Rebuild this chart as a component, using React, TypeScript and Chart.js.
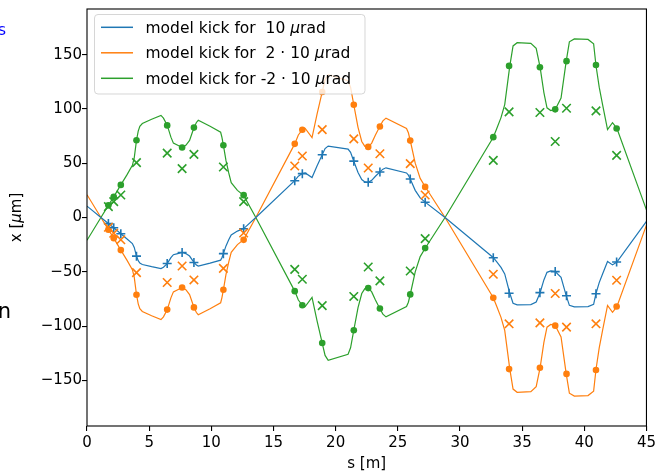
import React, { useEffect, useRef } from 'react';
import { Chart, registerables } from 'chart.js';

Chart.register(...registerables);

// ---- model orbit (dense points along s) ----
const modelS = [0, 1.12, 1.72, 2.15, 2.72, 3.2, 3.65, 3.8, 3.98, 4.12, 4.25, 4.45, 5.2, 5.95, 6.15, 6.45, 6.75, 6.95, 7.3, 7.66, 7.95, 8.25, 8.6, 8.8, 8.95, 9.9, 10.75, 10.85, 10.97, 11.18, 11.4, 11.6, 12.1, 12.6, 13.58, 16.71, 17.0, 17.32, 17.55, 18.1, 18.5, 18.92, 19.15, 19.4, 21.0, 21.2, 21.46, 21.8, 22.1, 22.35, 22.62, 22.9, 23.2, 23.56, 23.8, 24.05, 25.7, 25.85, 26.0, 26.4, 26.8, 27.2, 28.8, 32.67, 32.93, 33.3, 33.6, 34.0, 34.27, 34.6, 35.7, 36.13, 36.45, 36.75, 37.0, 37.3, 37.66, 38.13, 38.54, 38.8, 39.2, 40.3, 40.75, 40.94, 41.2, 41.47, 41.87, 42.27, 42.62, 45];

const blueModel = [10.5, 0, -5.6, -9.5, -15, -19.5, -24, -27.5, -35.5, -39.75, -42, -43.25, -45.25, -47, -45.75, -42.5, -37, -34.25, -33.25, -32.25, -33.25, -35.5, -41.35, -43.75, -44.75, -42, -39.25, -37, -33.3, -26.15, -20.5, -16, -12.5, -10.2, 0, 33.9, 38, 40.45, 41, 36.75, 47.5, 57.8, 63.5, 65.75, 63, 60, 51.85, 41.5, 35, 32.75, 32.4, 34.25, 38, 42, 44.5, 45.75, 41, 39, 35.45, 25, 18, 14.15, 0, -36.8, -40.5, -46, -52, -69.5, -79, -80.5, -80.15, -77.85, -69, -57.5, -50.5, -49.25, -49.75, -55, -71.75, -80.9, -82.25, -82, -80, -70, -60, -52, -40.5, -43.65, -41.05, -3.5];

const orangeModel = [21, 0, -11.2, -19, -30, -39, -48, -55, -71, -79.5, -84, -86.5, -90.5, -94, -91.5, -85, -74, -68.5, -66.5, -64.5, -66.5, -71, -82.7, -87.5, -89.5, -84, -78.5, -74, -66.6, -52.3, -41, -32, -25, -20.4, 0, 67.8, 76, 80.9, 82, 73.5, 95, 115.6, 127, 131.5, 126, 120, 103.7, 83, 70, 65.5, 64.8, 68.5, 76, 84, 89, 91.5, 82, 78, 70.9, 50, 36, 28.3, 0, -73.6, -81, -92, -104, -139, -158, -161, -160.3, -155.7, -138, -115, -101, -98.5, -99.5, -110, -143.5, -161.8, -164.5, -164, -160, -140, -120, -104, -81, -87.3, -82.1, -7];

const greenModel = [-21, 0, 11.2, 19, 30, 39, 48, 55, 71, 79.5, 84, 86.5, 90.5, 94, 91.5, 85, 74, 68.5, 66.5, 64.5, 66.5, 71, 82.7, 87.5, 89.5, 84, 78.5, 74, 66.6, 52.3, 41, 32, 25, 20.4, 0, -67.8, -76, -80.9, -82, -73.5, -95, -115.6, -127, -131.5, -126, -120, -103.7, -83, -70, -65.5, -64.8, -68.5, -76, -84, -89, -91.5, -82, -78, -70.9, -50, -36, -28.3, 0, 73.6, 81, 92, 104, 139, 158, 161, 160.3, 155.7, 138, 115, 101, 98.5, 99.5, 110, 143.5, 161.8, 164.5, 164, 160, 140, 120, 104, 81, 87.3, 82.1, 7];

// ---- values at BPM positions ----
const bpmS = [1.72, 2.15, 2.72, 3.98, 6.45, 7.65, 8.6, 10.97, 12.6, 16.71, 17.32, 18.92, 21.46, 22.62, 23.56, 26.0, 27.2, 32.68, 33.95, 36.43, 37.66, 38.57, 40.94, 42.6];
const blueBpm = [-5.6, -9.5, -15, -35.6, -42.4, -32.2, -41.4, -33.3, -10.3, 33.9, 40.4, 57.8, 51.9, 32.5, 41.9, 35.4, 14.1, -37, -69.8, -69.2, -49.8, -72, -70.2, -41];
const orangeBpm = [-11.2, -19, -30, -71.2, -84.8, -64.4, -82.8, -66.6, -20.6, 67.8, 80.8, 115.6, 103.8, 65, 83.8, 70.8, 28.2, -74, -139.6, -138.4, -99.6, -144, -140.4, -82];
const greenBpm = [11.2, 19, 30, 71.2, 84.8, 64.4, 82.8, 66.6, 20.6, -67.8, -80.8, -115.6, -103.8, -65, -83.8, -70.8, -28.2, 74, 139.6, 138.4, 99.6, 144, 140.4, 82];
const orangeMeas = [-9, -14.5, -20.5, -50.8, -59.9, -44.7, -57.5, -46.8, -14.3, 47.4, 56.6, 80.9, 72.4, 45.6, 58.7, 49.6, 20.7, -52.3, -97.9, -97, -70, -101, -97.9, -57.8];
const greenMeas = [10, 14.6, 20.7, 50.5, 59.3, 45, 58.1, 46.5, 14.6, -47.8, -56.9, -81.2, -72.7, -45.6, -58.4, -49.3, -19.5, 52.6, 97.3, 96.7, 70, 100.6, 98.2, 57.2];

// ---- ticks & labels ----
const xTicks = [0, 5, 10, 15, 20, 25, 30, 35, 40, 45];
const yTicks = [-150, -100, -50, 0, 50, 100, 150];
const legendPrefixes = ['model kick for  10 ', 'model kick for  2 \u00b7 10 ', 'model kick for -2 \u00b7 10 '];
const legendUnitGreek = '\u03bc';
const legendUnitRest = 'rad';
const xTitle = 's [m]';
const yTitleParts = ['x [', '\u03bc', 'm]'];

const BLUE = '#1f77b4';
const ORANGE = '#ff7f0e';
const GREEN = '#2ca02c';
const FONT = '"DejaVu Sans", sans-serif';

const pts = (xs: number[], ys: number[]) => xs.map((x, i) => ({ x, y: ys[i] }));

// draws text pieces where the middle piece is italic (mathtext-like \mu)
const drawMixed = (ctx: any, parts: string[], x: number, y: number, fs: number) => {
  let tx = x;
  parts.forEach((p, i) => {
    ctx.font = `${i === 1 ? 'italic ' : ''}${fs}px ${FONT}`;
    ctx.fillText(p, tx, y);
    tx += ctx.measureText(p).width;
  });
};
const mixedWidth = (ctx: any, parts: string[], fs: number) => {
  let w = 0;
  parts.forEach((p, i) => {
    ctx.font = `${i === 1 ? 'italic ' : ''}${fs}px ${FONT}`;
    w += ctx.measureText(p).width;
  });
  return w;
};

const framePlugin = {
  id: 'mplFrame',
  afterDraw(chart: any) {
    const { ctx, chartArea: a } = chart;
    ctx.save();
    ctx.strokeStyle = '#000';
    ctx.lineWidth = 1.1;
    ctx.strokeRect(a.left, a.top, a.right - a.left, a.bottom - a.top);

    // y axis title, rotated
    ctx.save();
    const fsT = 15;
    const w = mixedWidth(ctx, yTitleParts, fsT);
    ctx.translate(17.5, (a.top + a.bottom) / 2);
    ctx.rotate(-Math.PI / 2);
    ctx.fillStyle = '#000';
    ctx.textBaseline = 'middle';
    ctx.textAlign = 'left';
    drawMixed(ctx, yTitleParts, -w / 2, 0, fsT);
    ctx.restore();

    // legend
    const x0 = 94.5, y0 = 14.5, x1 = 365, y1 = 94, r = 3.5;
    ctx.beginPath();
    ctx.moveTo(x0 + r, y0);
    ctx.lineTo(x1 - r, y0);
    ctx.quadraticCurveTo(x1, y0, x1, y0 + r);
    ctx.lineTo(x1, y1 - r);
    ctx.quadraticCurveTo(x1, y1, x1 - r, y1);
    ctx.lineTo(x0 + r, y1);
    ctx.quadraticCurveTo(x0, y1, x0, y1 - r);
    ctx.lineTo(x0, y0 + r);
    ctx.quadraticCurveTo(x0, y0, x0 + r, y0);
    ctx.closePath();
    ctx.fillStyle = 'rgba(255,255,255,0.8)';
    ctx.fill();
    ctx.strokeStyle = 'rgba(204,204,204,0.8)';
    ctx.lineWidth = 1;
    ctx.stroke();

    const colors = [BLUE, ORANGE, GREEN];
    const fs = 15.5;
    legendPrefixes.forEach((pre, i) => {
      const ry = 27.3 + i * 25.5;
      ctx.strokeStyle = colors[i];
      ctx.lineWidth = 1.5;
      ctx.beginPath();
      ctx.moveTo(101, ry);
      ctx.lineTo(133, ry);
      ctx.stroke();
      ctx.fillStyle = '#000';
      ctx.textBaseline = 'alphabetic';
      ctx.textAlign = 'left';
      drawMixed(ctx, [pre, legendUnitGreek, legendUnitRest], 145.5, ry + 5.5, fs);
    });

    // clipped text fragments at the left edge of the figure
    ctx.textAlign = 'left';
    ctx.textBaseline = 'alphabetic';
    ctx.font = `16px ${FONT}`;
    ctx.fillStyle = '#0000ff';
    ctx.fillText('s', -2.2, 34.5);
    ctx.font = `21px ${FONT}`;
    ctx.fillStyle = '#000';
    ctx.fillText('n', -2.3, 318);
    ctx.restore();
  },
};

export default function App() {
  const ref = useRef<HTMLCanvasElement>(null);
  useEffect(() => {
    document.body.style.margin = '0';
    Chart.defaults.font.family = FONT;
    const lineDs = (data: number[], color: string) => ({
      data: pts(modelS, data),
      showLine: true,
      borderColor: color,
      backgroundColor: color,
      borderWidth: 1.2,
      pointRadius: 0,
      tension: 0,
      order: 10,
    });
    const markDs = (ys: number[], color: string, style: string, radius: number, order: number, filled: boolean) => ({
      data: pts(bpmS, ys),
      showLine: false,
      pointStyle: style,
      pointRadius: radius,
      pointBorderColor: color,
      pointBackgroundColor: color,
      pointBorderWidth: filled ? 0 : 1.6,
      borderColor: color,
      backgroundColor: color,
      order,
    });
    const chart = new Chart(ref.current as HTMLCanvasElement, {
      type: 'scatter',
      data: {
        datasets: [
          lineDs(blueModel, BLUE),
          lineDs(orangeModel, ORANGE),
          lineDs(greenModel, GREEN),
          markDs(blueBpm, BLUE, 'cross', 4.5, 3, false),
          markDs(orangeBpm, ORANGE, 'circle', 3.3, 5, true),
          markDs(greenBpm, GREEN, 'circle', 3.3, 5, true),
          markDs(orangeMeas, ORANGE, 'crossRot', 6, 1, false),
          markDs(greenMeas, GREEN, 'crossRot', 6, 1, false),
        ] as any,
      },
      options: {
        animation: false,
        responsive: false,
        devicePixelRatio: 1,
        layout: { padding: { left: 0, right: 10, top: 6, bottom: 0 } },
        plugins: { legend: { display: false }, tooltip: { enabled: false } },
        events: [],
        scales: {
          x: {
            type: 'linear',
            min: 0,
            max: 45,
            afterBuildTicks: (s: any) => { s.ticks = xTicks.map((v) => ({ value: v })); },
            afterFit: (s: any) => { s.height = 47; },
            ticks: {
              autoSkip: false,
              maxRotation: 0,
              padding: 3,
              color: '#000',
              font: { size: 15, family: FONT },
              callback: (v: any) => String(v).replace('-', '\u2212'),
            },
            grid: { drawOnChartArea: false, drawTicks: true, tickLength: 5, color: '#000', lineWidth: 1.1 },
            border: { display: false },
            title: { display: true, text: xTitle, color: '#000', font: { size: 15, family: FONT }, padding: { top: 0, bottom: 0 } },
          },
          y: {
            type: 'linear',
            min: -192,
            max: 192,
            afterBuildTicks: (s: any) => { s.ticks = yTicks.map((v) => ({ value: v })); },
            afterFit: (s: any) => { s.width = 87; },
            ticks: {
              padding: 0,
              color: '#000',
              font: { size: 15, family: FONT },
              callback: (v: any) => String(v).replace('-', '\u2212'),
            },
            grid: { drawOnChartArea: false, drawTicks: true, tickLength: 5, color: '#000', lineWidth: 1.1 },
            border: { display: false },
            title: { display: false },
          },
        },
      },
      plugins: [framePlugin],
    } as any);
    return () => chart.destroy();
  }, []);
  return (
    <div style={{ position: 'absolute', left: 0, top: 0, width: 659, height: 473 }}>
      <canvas ref={ref} width={659} height={473} style={{ display: 'block', width: 659, height: 473 }} />
    </div>
  );
}
